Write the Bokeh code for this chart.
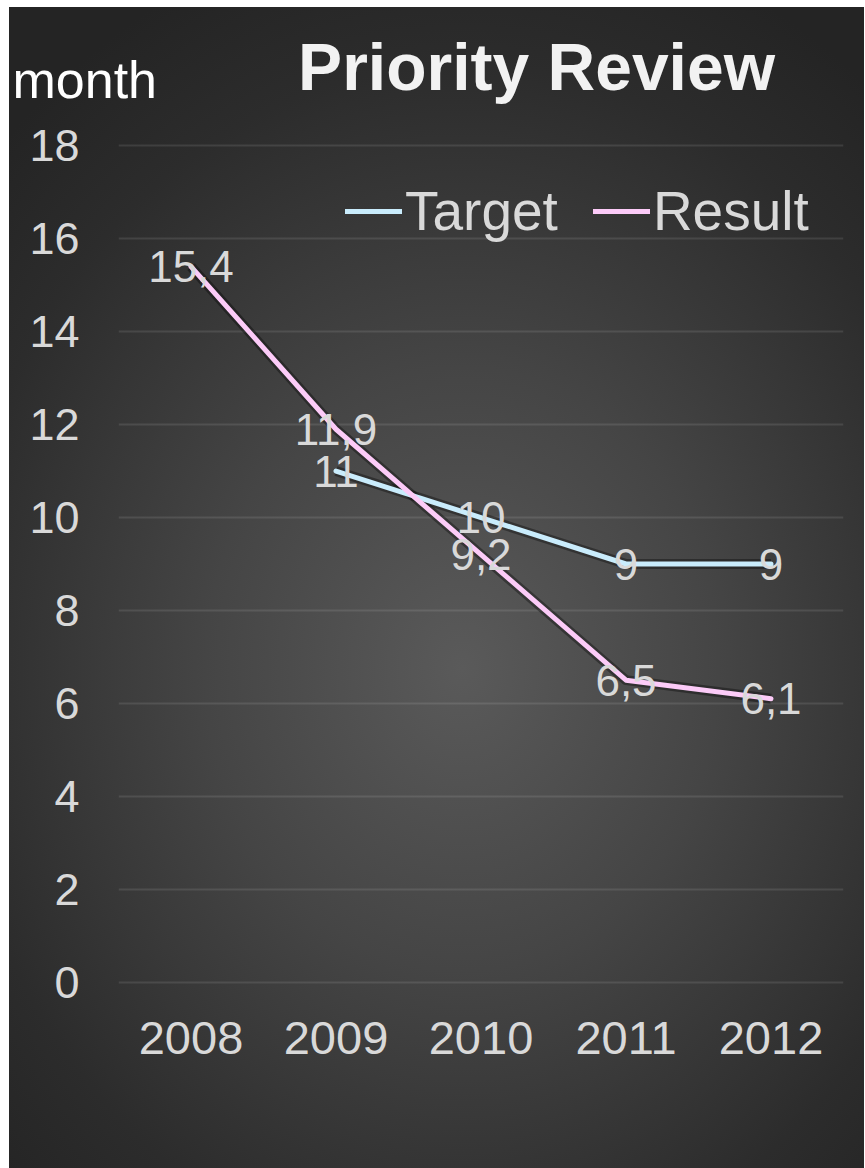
from bokeh.plotting import figure
from bokeh.models import ColumnDataSource, Legend, LegendItem, Label, FactorRange, FixedTicker, Range1d
from bokeh.core.properties import value
from bokeh.embed import file_html
from bokeh.resources import INLINE

# Data
years = ["2008", "2009", "2010", "2011", "2012"]
target_years = ["2009", "2010", "2011", "2012"]
target_values = [11, 10, 9, 9]
target_labels = ["11", "10", "9", "9"]
result_years = ["2008", "2009", "2010", "2011", "2012"]
result_values = [15.4, 11.9, 9.2, 6.5, 6.1]
result_labels = ["15,4", "11,9", "9,2", "6,5", "6,1"]
y_ticks = [0, 2, 4, 6, 8, 10, 12, 14, 16, 18]

FONT = "Liberation Sans"
TEXT_COLOR = "#d9d9d9"
TARGET_COLOR = "#c9ecfc"
RESULT_COLOR = "#fccbf8"

# a hair of extra room so the 0 and 18 grid lines are drawn
p = figure(
    x_range=FactorRange(*years, range_padding=0),
    y_range=Range1d(-0.05, 18.05),
    width=855, height=1161,
    output_backend="svg", toolbar_location=None,
    min_border_left=109, min_border_right=21,
    min_border_top=136, min_border_bottom=184,
)
p.margin = (7, 1, 0, 9)
p.border_fill_color = None
p.background_fill_color = None
p.outline_line_color = None
p.styles = {
    "background": "radial-gradient(ellipse 75% 65% at 53% 57%, #5a5a5a 0%, #454545 40%, #2c2c2c 80%, #242424 100%)"
}

for ax in (p.xaxis[0], p.yaxis[0]):
    ax.axis_line_color = None
    ax.major_tick_line_color = None
    ax.minor_tick_line_color = None
    ax.major_label_text_color = TEXT_COLOR
    ax.major_label_text_font = FONT
p.yaxis.ticker = FixedTicker(ticks=y_ticks)
p.yaxis.major_label_text_font_size = "45px"
p.yaxis.major_label_standoff = 33
p.xaxis.major_label_text_font_size = "47px"
p.xaxis.major_label_standoff = 31

p.xgrid.grid_line_color = None
p.ygrid.grid_line_color = "white"
p.ygrid.grid_line_alpha = 0.1
p.ygrid.grid_line_width = 2

tsrc = ColumnDataSource(dict(x=target_years, y=target_values, label=target_labels))
rsrc = ColumnDataSource(dict(x=result_years, y=result_values, label=result_labels))

# Soft dark halo under each series
p.line("x", "y", source=tsrc, line_color="black", line_alpha=0.35, line_width=10, line_join="round")
p.line("x", "y", source=rsrc, line_color="black", line_alpha=0.35, line_width=10, line_join="round")

t_line = p.line("x", "y", source=tsrc, line_color=TARGET_COLOR, line_width=5, line_join="round", line_cap="round")
r_line = p.line("x", "y", source=rsrc, line_color=RESULT_COLOR, line_width=5, line_join="round", line_cap="round")

# Value labels centred on the points
for src in (tsrc, rsrc):
    p.text("x", "y", text="label", source=src, text_align="center", text_baseline="middle",
           text_font=value(FONT), text_font_size="44px", text_color=TEXT_COLOR)

legend = Legend(
    items=[LegendItem(label="Target", renderers=[t_line]),
           LegendItem(label="Result", renderers=[r_line])],
    orientation="horizontal",
    location=(227, 741),
    glyph_width=57, glyph_height=50, label_height=50,
    label_standoff=3, spacing=35, padding=0, margin=0,
    label_text_font=FONT, label_text_font_size="55px", label_text_color=TEXT_COLOR,
    border_line_color=None, background_fill_alpha=0,
)
p.add_layout(legend, "center")

# Unit caption and heading sit outside the frame, so they go in side panels
# (placed in data coordinates above the 18 line)
month_label = Label(x=-0.731, y=19.41, text="month", text_font=FONT, text_font_size="52px",
                    text_color="white", text_align="left", text_baseline="alphabetic")
title_label = Label(x=2.883, y=19.69, text="Priority Review", text_font=FONT,
                    text_font_size="66px", text_font_style="bold", text_color="#f2f2f2",
                    text_align="center", text_baseline="alphabetic")
p.add_layout(title_label, "above")
p.add_layout(month_label, "below")

open("out.html", "w").write(file_html(p, INLINE))
